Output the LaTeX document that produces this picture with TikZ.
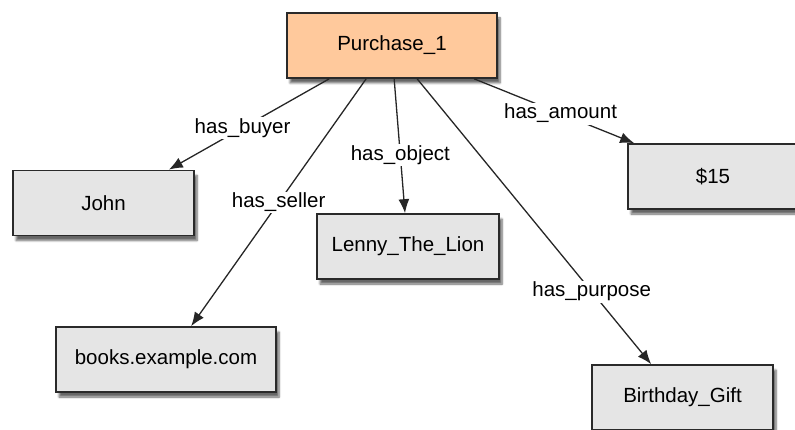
\documentclass[tikz,border=0pt]{standalone}
\usepackage{fontspec}
\setmainfont{Liberation Sans}
\usetikzlibrary{arrows.meta,shadows.blur}

\definecolor{EntityPeach}{HTML}{FFC99C}
\definecolor{EntityGray}{HTML}{E5E5E5}
\definecolor{EntityBorder}{HTML}{2A2A2A}
\tikzstyle{entity}=[draw=EntityBorder, line width=1.7pt, fill=EntityGray,
      minimum height=65pt, inner sep=0pt,
      blur shadow={shadow xshift=3pt, shadow yshift=-5pt, shadow blur steps=6, shadow opacity=60}]
\tikzstyle{relation}=[line width=1.3pt, draw=black!85, -{Latex[length=14pt,width=11pt]}]
\tikzstyle{relation-label}=[fill=white, inner sep=1.5pt]

\begin{document}
\begin{tikzpicture}[x=1pt, y=-1pt, font=\fontsize{20.5}{24}\selectfont]
      \useasboundingbox (0,0) rectangle (795,430);

      \node (purchase) at (392, 45.5)
            [entity, fill={EntityPeach}, minimum width=210pt] {Purchase\_1};
      \node (john) at (103.5, 203)
            [entity, minimum width=181pt] {John};
      \node (books) at (166, 359.5)
            [entity, minimum width=220pt] {books.example.com};
      \node (lenny) at (408, 246.5)
            [entity, minimum width=182pt] {Lenny\_The\_Lion};
      \node (amount) at (713, 176.5)
            [entity, minimum width=170pt] {\$15};
      \node (gift) at (682.5, 397.5)
            [entity, minimum width=181pt] {Birthday\_Gift};

      \draw [relation] ([xshift=43pt]purchase.south west) -- ([xshift=-26pt]john.north east)
            node [relation-label, pos=0.54] {has\_buyer};
      \draw [relation] ([xshift=80pt]purchase.south west) -- ([xshift=136pt]books.north west)
            node [relation-label, pos=0.5] {has\_seller};
      \draw [relation] ([xshift=108pt]purchase.south west) -- ([xshift=-3pt]lenny.north)
            node [relation-label, pos=0.57] {has\_object};
      \draw [relation] ([xshift=131pt]purchase.south west) -- ([xshift=60pt]gift.north west)
            node [relation-label, pos=0.746] {has\_purpose};
      \draw [relation] ([xshift=188pt]purchase.south west) -- ([xshift=7pt]amount.north west)
            node [relation-label, pos=0.54] {has\_amount};
\end{tikzpicture}
\end{document}
